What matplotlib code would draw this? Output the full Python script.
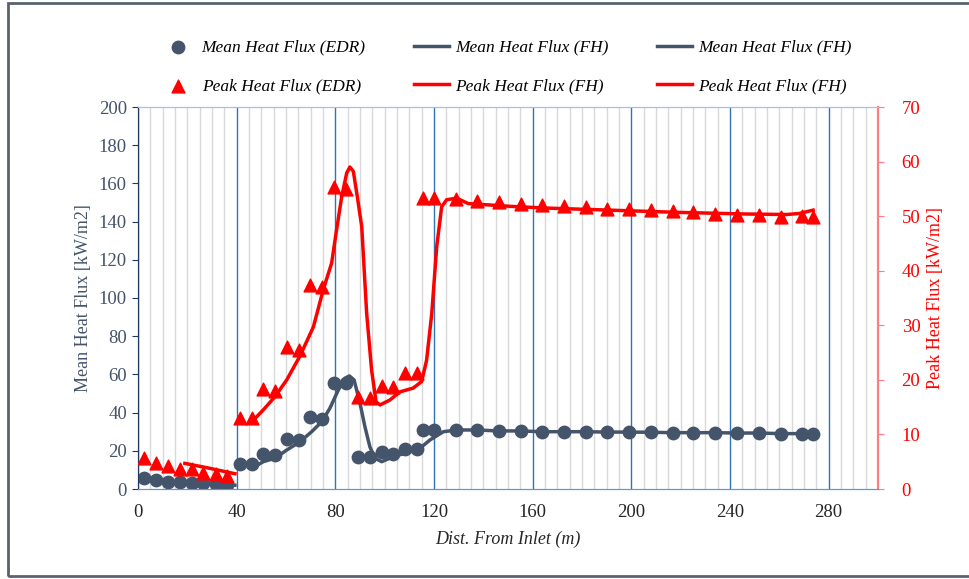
import matplotlib.pyplot as plt
from matplotlib.patches import Rectangle
from matplotlib.ticker import MultipleLocator

plt.rcParams["font.family"] = ["Liberation Serif", "DejaVu Serif"]

MEAN_C = "#44546A"
PEAK_C = "#FF0000"

# EDR points (distance from inlet, m)
edr_x = [2.4, 7.2, 12.3, 17.0, 21.8, 26.5, 31.5, 36.2,
         41.3, 46.1, 50.8, 55.5, 60.3, 65.3, 69.7, 74.7, 79.5, 84.3,
         89.0, 94.0, 98.8, 103.5, 108.2, 113.2, 115.5, 120.1,
         128.8, 137.5, 146.3, 155.1, 163.9, 172.7, 181.5, 190.2, 199.0,
         207.8, 216.7, 225.1, 234.0, 242.9, 251.7, 260.5, 269.0, 273.7]
edr_mean = [5.9, 4.7, 3.8, 3.5, 3.3, 3.0, 2.5, 1.9,
            12.9, 12.9, 18.3, 17.8, 26.0, 25.6, 37.5, 36.6, 55.3, 55.3,
            16.6, 16.6, 19.2, 18.3, 20.9, 20.9, 30.9, 30.9,
            30.9, 30.9, 30.4, 30.4, 30.0, 30.0, 30.0, 29.8, 29.8,
            29.7, 29.5, 29.5, 29.5, 29.3, 29.3, 29.0, 29.0, 29.0]
edr_peak = [5.7, 4.8, 4.2, 3.6, 3.6, 2.9, 2.7, 2.3,
            13.1, 13.0, 18.3, 18.0, 26.0, 25.5, 37.4, 37.0, 55.4, 54.9,
            16.8, 16.6, 18.8, 18.6, 21.2, 21.2, 53.4, 53.4,
            53.1, 52.8, 52.6, 52.3, 52.0, 51.9, 51.6, 51.3, 51.3,
            51.1, 51.0, 50.8, 50.4, 50.2, 50.2, 49.9, 50.0, 49.9]

# FH model, section 1 (inlet region)
fh1_x = [19.0, 29.0, 39.3]
fh1_mean = [3.5, 2.8, 2.0]
fh1_peak = [4.7, 3.8, 2.8]

# FH model, section 2
fh2_mean_x = [46.1, 50.8, 55.5, 60.3, 65.7, 70.4, 74.5, 77.8, 81.2, 83.9, 85.7,
              87.6, 90.0, 92.0, 94.0, 96.1, 98.8, 103.5, 110.3, 114.3, 118.4,
              123.8, 129.2, 137.5, 146.3, 155.1, 163.9, 172.7, 181.5, 190.2,
              199.0, 207.8, 216.7, 225.1, 234.0, 242.9, 251.7, 260.5, 269.0, 273.7]
fh2_mean = [10.8, 14.3, 16.1, 20.4, 24.8, 30.0, 35.2, 42.3, 51.8, 58.0, 59.2,
            57.1, 44.9, 32.6, 22.1, 16.1, 14.3, 16.9, 19.5, 21.3, 25.7,
            30.0, 30.9, 30.9, 30.4, 30.4, 30.0, 30.0, 30.0, 29.8,
            29.8, 29.7, 29.5, 29.5, 29.5, 29.3, 29.3, 29.0, 29.0, 29.0]

fh2_peak_x = [46.1, 50.8, 55.5, 60.3, 65.7, 71.1, 75.1, 78.5, 80.5, 82.6, 84.6,
              85.9, 87.3, 88.9, 90.7, 92.7, 94.7, 96.5, 98.1, 102.1, 106.2,
              111.6, 115.0, 117.0, 119.1, 121.1, 123.1, 125.1, 129.2, 133.9,
              150.8, 164.3, 191.3, 218.4, 245.4, 263.0, 268.3, 273.7]
fh2_peak = [12.3, 14.5, 16.9, 20.0, 24.4, 29.7, 36.5, 41.4, 47.5, 53.6, 57.9,
            59.0, 58.2, 53.6, 48.1, 32.2, 21.8, 16.0, 15.4, 16.3, 17.8,
            18.5, 19.7, 23.6, 32.2, 44.4, 51.7, 53.0, 53.3, 52.3,
            51.8, 51.5, 51.1, 50.7, 50.4, 50.3, 50.5, 51.1]

fig = plt.figure(figsize=(9.69, 5.79), dpi=100)
ax = fig.add_axes([138 / 969, 1 - 489 / 579, 740 / 969, 382 / 579])
ax2 = ax.twinx()

# grid: light minor lines every 5 m, blue major every 40 m
ax.set_xlim(0, 300)
ax.set_ylim(0, 200)
ax2.set_ylim(0, 70)
ax.xaxis.set_major_locator(MultipleLocator(40))
ax.xaxis.set_minor_locator(MultipleLocator(5))
ax.yaxis.set_major_locator(MultipleLocator(20))
ax2.yaxis.set_major_locator(MultipleLocator(10))
ax.grid(True, which="minor", axis="x", color="#D9D9D9", lw=1.0)
ax.grid(True, which="major", axis="x", color="#2E75B6", lw=1.0)
ax.set_axisbelow(True)

h_mean_edr = ax.scatter(edr_x, edr_mean, s=80, color=MEAN_C, marker="o",
                        zorder=3, label="Mean Heat Flux (EDR)")
h_mean_fh1, = ax.plot(fh1_x, fh1_mean, color=MEAN_C, lw=2.5, zorder=4,
                      solid_joinstyle="round", label="Mean Heat Flux (FH)")
h_mean_fh2, = ax.plot(fh2_mean_x, fh2_mean, color=MEAN_C, lw=2.5, zorder=4,
                      solid_joinstyle="round", label="Mean Heat Flux (FH)")
h_peak_edr = ax2.scatter(edr_x, edr_peak, s=85, color=PEAK_C, marker="^",
                         zorder=3, label="Peak Heat Flux (EDR)")
h_peak_fh1, = ax2.plot(fh1_x, fh1_peak, color=PEAK_C, lw=2.5, zorder=4,
                       solid_joinstyle="round", label="Peak Heat Flux (FH)")
h_peak_fh2, = ax2.plot(fh2_peak_x, fh2_peak, color=PEAK_C, lw=2.5, zorder=4,
                       solid_joinstyle="round", label="Peak Heat Flux (FH)")

for a in (ax, ax2):
    a.spines["top"].set_color("#9DC3E6")
    a.spines["bottom"].set_color("#5B9BD5")
    a.spines["left"].set_color("#1F3864")
    a.spines["right"].set_color("#FF7C80")
    a.spines["right"].set_linewidth(1.5)

ax.tick_params(axis="x", which="both", length=0, labelsize=13.5,
               labelcolor="#262626", pad=11)
ax.tick_params(axis="y", length=4, color="#1F3864", labelsize=13.5,
               labelcolor=MEAN_C, pad=4)
ax2.tick_params(axis="y", length=4, color="#FF7C80", labelsize=13.5,
                labelcolor=PEAK_C, pad=13)
ax.set_xticks([0, 40, 80, 120, 160, 200, 240, 280])

ax.set_xlabel("Dist. From Inlet (m)", fontsize=13, style="italic",
              color="#262626", labelpad=7)
ax.set_ylabel("Mean Heat Flux [kW/m2]", fontsize=13, color=MEAN_C, labelpad=5)
ax2.set_ylabel("Peak Heat Flux [kW/m2]", fontsize=13, color=PEAK_C, labelpad=5)

fig.legend(handles=[h_mean_edr, h_peak_edr, h_mean_fh1, h_peak_fh1,
                    h_mean_fh2, h_peak_fh2],
           ncol=3, loc="center", bbox_to_anchor=(506 / 969, 1 - 67 / 579),
           frameon=False, prop={"style": "italic", "size": 12.5},
           handlelength=2.0, handletextpad=0.35, columnspacing=2.8,
           labelspacing=1.3)

fig.patches.append(Rectangle((8 / 969, 3 / 579), 1.0, 573 / 579,
                             transform=fig.transFigure, fill=False,
                             edgecolor="#5A6270", lw=2.0))

fig.savefig("out.png", dpi=100)
